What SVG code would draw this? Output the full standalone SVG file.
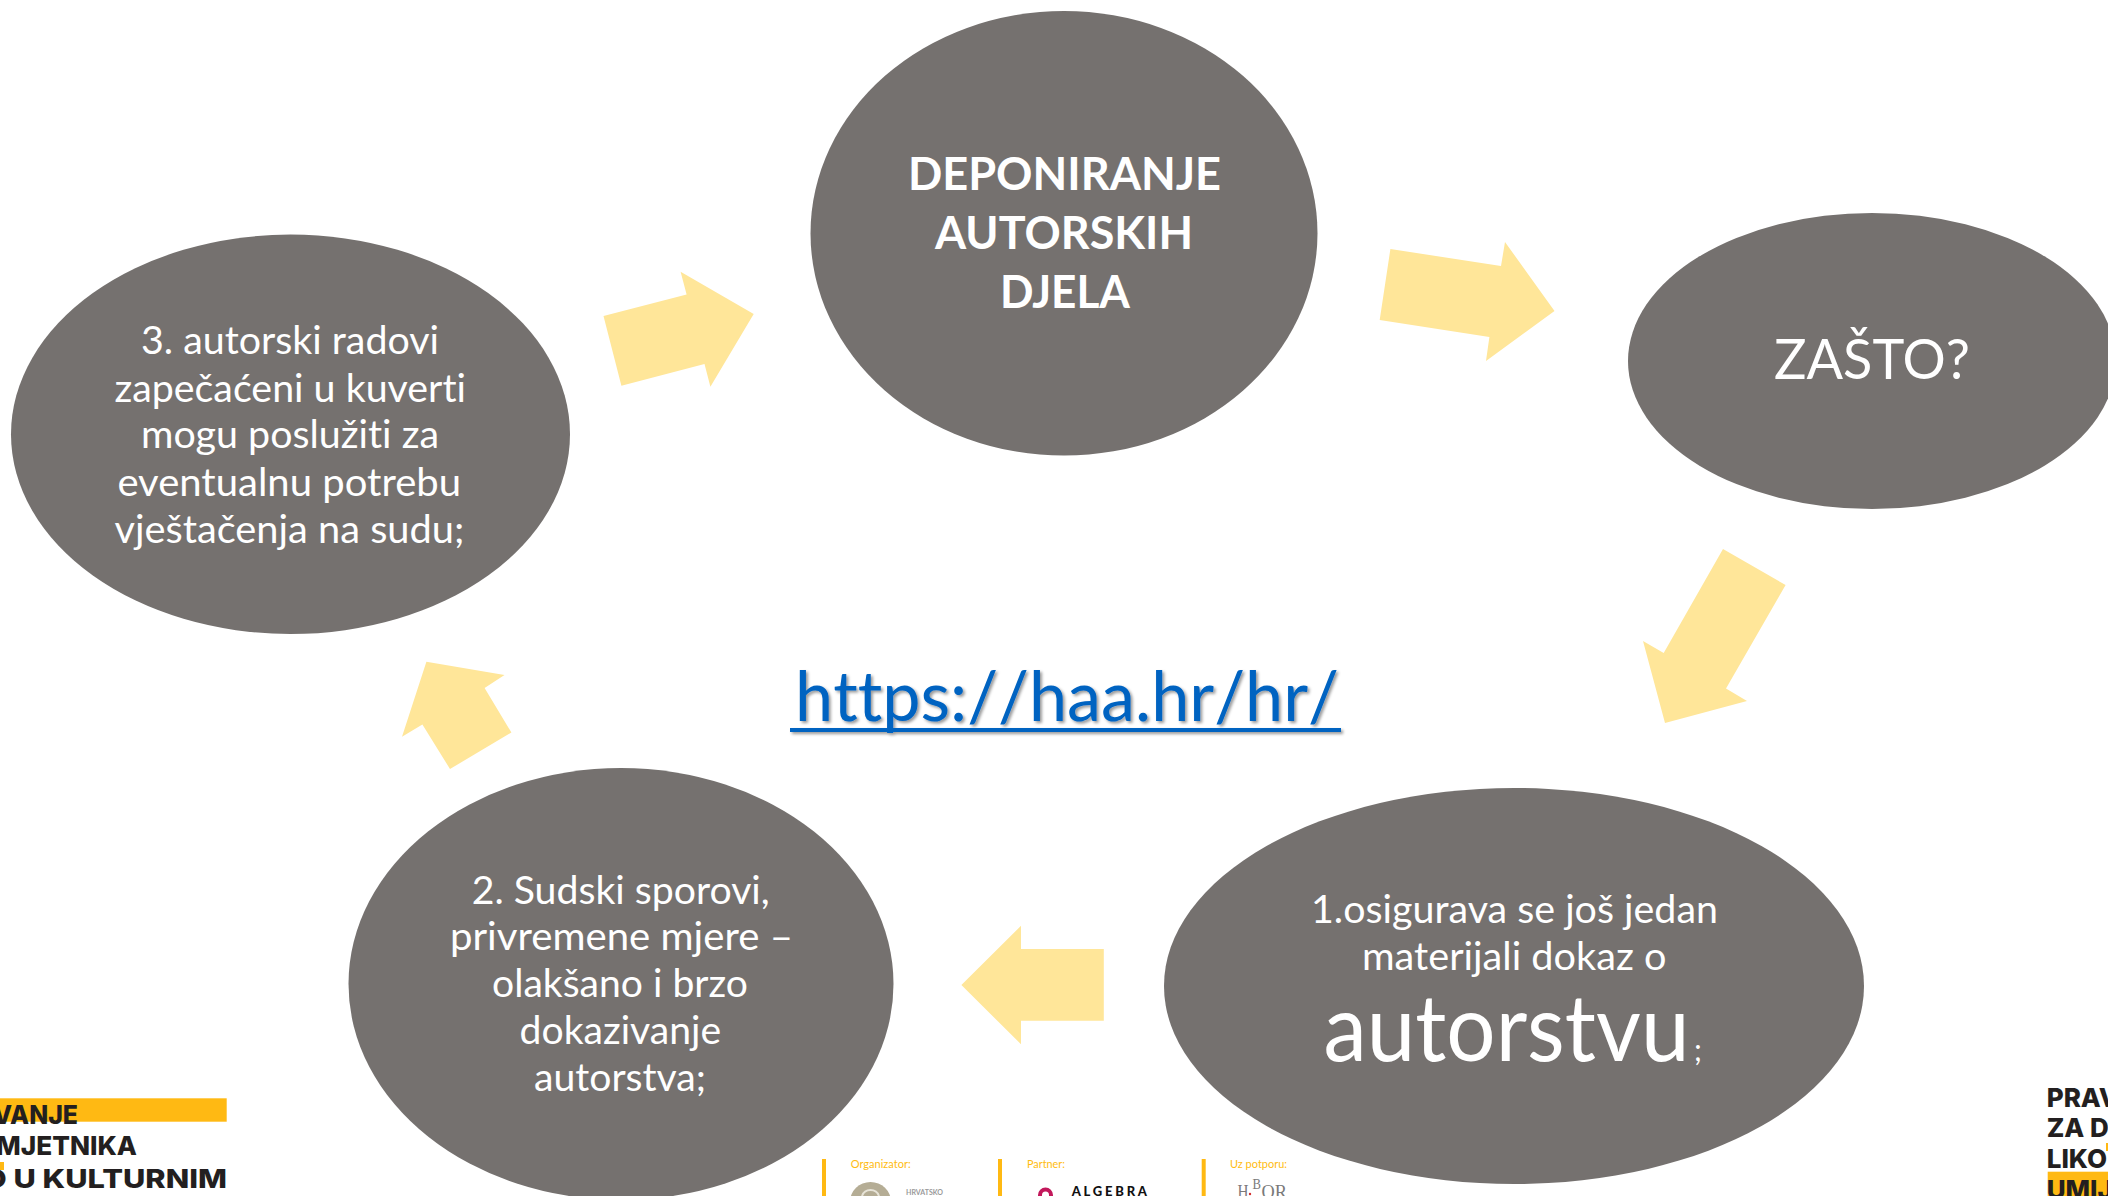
<svg xmlns="http://www.w3.org/2000/svg" width="2108" height="1196" viewBox="0 0 2108 1196">
<style>
text{font-family:"Lato","Liberation Sans",sans-serif;font-variant-ligatures:none}
.n{fill:#75716f}
.t{fill:#fff;font-size:39px;font-weight:400}
.b{fill:#fff;font-size:46px;font-weight:700}
.a{fill:#ffe699}
.cap{fill:#ffbc10;font-size:12px}
.bar{fill:#ffb913}
.logo{fill:#231f20;font-size:26px;font-weight:800;font-family:"Inter","Liberation Sans",sans-serif}
.hb{fill:#7a7a7a;font-family:"Liberation Serif",serif}
</style>
<defs>
<filter id="sh" x="-5%" y="-20%" width="110%" height="140%"><feDropShadow dx="2" dy="2" stdDeviation="1.5" flood-color="#000" flood-opacity=".4"/></filter>
</defs>
<rect width="2108" height="1196" fill="#fff"/>
<g id="connectors">
<polygon class="a" points="1390.4,249 1501,266 1505,242 1554.5,311 1486,361 1489.4,337 1379.7,320"/>
<polygon class="a" points="1723,549 1785.6,585 1726,688.6 1747,701 1665,723 1643,641 1663.7,653"/>
<polygon class="a" points="961.4,985 1021,925.7 1021,949 1103.8,949 1103.8,1020.7 1021,1020.7 1021,1044.3"/>
<polygon class="a" points="426.4,661.8 504.5,675 484.6,688 511.4,732.5 450,769 422.4,724.6 402,736.8"/>
<polygon class="a" points="603.5,316 686.6,294.6 680.6,271.8 753.7,314 710.4,386.8 704.5,364 621.4,385.7"/>
</g>
<g id="node-deponiranje">
<ellipse class="n" cx="1064" cy="233.3" rx="253.5" ry="222.3"/>
<text class="b" x="908" y="190" textLength="313" lengthAdjust="spacingAndGlyphs">DEPONIRANJE</text>
<text class="b" x="935" y="249" textLength="258" lengthAdjust="spacingAndGlyphs">AUTORSKIH</text>
<text class="b" x="1000" y="307.5" textLength="130" lengthAdjust="spacingAndGlyphs">DJELA</text>
</g>
<g id="node-zasto">
<ellipse class="n" cx="1872" cy="361" rx="244" ry="148"/>
<text x="1774" y="378.6" fill="#fff" font-size="56" font-weight="400" textLength="196" lengthAdjust="spacingAndGlyphs">ZAŠTO?</text>
</g>
<g id="node-1">
<ellipse class="n" cx="1514" cy="986" rx="350" ry="198"/>
<text class="t" x="1311" y="922.5" textLength="407" lengthAdjust="spacingAndGlyphs">1.osigurava se još jedan</text>
<text class="t" x="1362" y="969.5" textLength="304.5" lengthAdjust="spacingAndGlyphs">materijali dokaz o</text>
<text x="1323.5" y="1061" fill="#fff" font-size="94" textLength="366" lengthAdjust="spacingAndGlyphs">autorstvu</text>
<text x="1694" y="1061" fill="#fff" font-size="30">;</text>
</g>
<g id="node-2">
<ellipse class="n" cx="621" cy="984" rx="272.5" ry="216"/>
<text class="t" x="471.7" y="903.5" textLength="298" lengthAdjust="spacingAndGlyphs">2. Sudski sporovi,</text>
<text class="t" x="450" y="949.5" textLength="343" lengthAdjust="spacingAndGlyphs">privremene mjere –</text>
<text class="t" x="492" y="996.5" textLength="256" lengthAdjust="spacingAndGlyphs">olakšano i brzo</text>
<text class="t" x="519.6" y="1043.5" textLength="201.5" lengthAdjust="spacingAndGlyphs">dokazivanje</text>
<text class="t" x="534" y="1091" textLength="172" lengthAdjust="spacingAndGlyphs">autorstva;</text>
</g>
<g id="node-3">
<ellipse class="n" cx="290.5" cy="434.3" rx="279.5" ry="199.7"/>
<text class="t" x="141" y="354" textLength="298" lengthAdjust="spacingAndGlyphs">3. autorski radovi</text>
<text class="t" x="114.4" y="401.5" textLength="351.6" lengthAdjust="spacingAndGlyphs">zapečaćeni u kuverti</text>
<text class="t" x="141" y="448" textLength="298" lengthAdjust="spacingAndGlyphs">mogu poslužiti za</text>
<text class="t" x="117.4" y="495.5" textLength="343.6" lengthAdjust="spacingAndGlyphs">eventualnu potrebu</text>
<text class="t" x="114.4" y="542.5" textLength="350" lengthAdjust="spacingAndGlyphs">vještačenja na sudu;</text>
</g>
<g id="link" filter="url(#sh)" fill="#0563c1">
<text x="795" y="720.5" font-size="70" style="font-kerning:none" textLength="544" lengthAdjust="spacingAndGlyphs">https://haa.hr/hr/</text>
<rect x="790" y="728" width="551" height="4"/>
</g>
<g id="logo-left">
<rect x="0" y="1098.3" width="226.7" height="23.4" fill="#ffb913"/>
<text class="logo" x="-7" y="1124" textLength="85" lengthAdjust="spacingAndGlyphs">VANJE</text>
<text class="logo" x="-4" y="1155" textLength="141" lengthAdjust="spacingAndGlyphs">MJETNIKA</text>
<rect x="0" y="1162" width="4" height="8" fill="#ffb913"/>
<text class="logo" x="-17" y="1188" textLength="244" lengthAdjust="spacingAndGlyphs">O U KULTURNIM</text>
</g>
<g id="logo-right">
<rect x="2106" y="1143" width="2" height="8" fill="#ffb913"/>
<rect x="2047.7" y="1171.7" width="60.3" height="24.3" fill="#ffb913"/>
<text class="logo" x="2046.7" y="1106.7">PRAV</text>
<text class="logo" x="2046.7" y="1137">ZA D</text>
<text class="logo" x="2046.7" y="1168">LIKO</text>
<text class="logo" x="2046.7" y="1199">UMIJ</text>
</g>
<g id="partners">
<rect class="bar" x="822" y="1159" width="4" height="37"/>
<rect class="bar" x="998" y="1159" width="4" height="37"/>
<rect class="bar" x="1201.7" y="1159" width="4" height="37"/>
<text class="cap" x="850.7" y="1168" textLength="60" lengthAdjust="spacingAndGlyphs">Organizator:</text>
<text class="cap" x="1027" y="1168" textLength="38" lengthAdjust="spacingAndGlyphs">Partner:</text>
<text class="cap" x="1230" y="1168" textLength="57" lengthAdjust="spacingAndGlyphs">Uz potporu:</text>
<ellipse cx="870.5" cy="1202" rx="20.5" ry="20" fill="#b5ad95"/>
<path d="M862 1196a9 9 0 0 1 17 0" fill="none" stroke="#e8e4d8" stroke-width="2"/>
<text x="906" y="1195" fill="#9a9a9a" font-size="7" font-weight="700" textLength="37" lengthAdjust="spacingAndGlyphs">HRVATSKO</text>
<path d="M1040 1198v-3a5.5 5.5 0 0 1 11 0v3" fill="none" stroke="#c2185b" stroke-width="4"/>
<text x="1071.7" y="1195.6" fill="#111" font-size="13" font-weight="900" textLength="75.3">ALGEBRA</text>
<text class="hb" x="1237.5" y="1198" font-size="18" textLength="11" lengthAdjust="spacingAndGlyphs">H</text>
<text class="hb" x="1252.5" y="1189" font-size="15" textLength="8.5" lengthAdjust="spacingAndGlyphs">B</text>
<text class="hb" x="1261.5" y="1198" font-size="18" textLength="25.5" lengthAdjust="spacingAndGlyphs">OR</text>
<circle cx="1250" cy="1194" r="1.2" fill="#d32f2f"/>
</g>
</svg>
